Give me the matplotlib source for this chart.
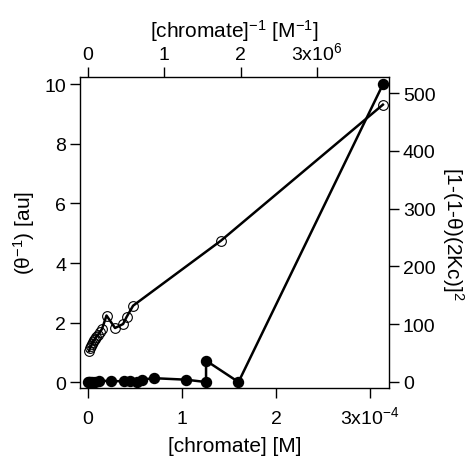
import numpy as np
import matplotlib
matplotlib.use("Agg")
import matplotlib.pyplot as plt

plt.rcParams['font.family'] = ['Liberation Sans', 'DejaVu Sans']
plt.rcParams['mathtext.fontset'] = 'custom'
plt.rcParams['mathtext.rm'] = 'Liberation Sans'
plt.rcParams['mathtext.it'] = 'Liberation Sans:italic'
plt.rcParams['mathtext.bf'] = 'Liberation Sans:bold'

# Filled circles: theta^-1 vs [chromate] (units of 1e-4 M)
chromate_1e4 = [0, 0.01, 0.02, 0.04, 0.07, 0.12, 0.24, 0.38, 0.45, 0.52, 0.57,
                0.70, 1.04, 1.255, 1.255, 1.60, 3.135]
theta_inv = [0, 0, 0, 0, 0, 0.05, 0.03, 0.03, 0.03, 0.0, 0.08,
             0.13, 0.08, 0.0, 0.72, 0.0, 10.0]

# Open circles: [1-(1-theta)(2Kc)]^2 vs [chromate]^-1 (units of 1e6 M^-1)
inv_chromate_1e6 = [0.013, 0.026, 0.039, 0.052, 0.066, 0.079, 0.092, 0.105,
                    0.131, 0.157, 0.183, 0.242, 0.354, 0.459, 0.505, 0.59,
                    1.74, 3.86]
right_vals = [53.6, 58.8, 62.3, 65.7, 69.2, 72.7, 74.4, 77.9,
              81.3, 86.5, 91.7, 115, 93.4, 100.3, 112.5, 132,
              244.5, 479.8]

bottom_ticks = [0, 1, 2, 3]
bottom_labels = ['0', '1', '2', '3x10$^{-4}$']
top_ticks = [0, 1, 2, 3]
top_labels = ['0', '1', '2', '3x10$^{6}$']
left_ticks = [0, 2, 4, 6, 8, 10]
right_ticks = [0, 100, 200, 300, 400, 500]

fig = plt.figure(figsize=(4.74, 4.60), dpi=100)
pos = [80/474, 1-389/460, (389-80)/474, (389-78)/460]
ax = fig.add_axes(pos)
ax2 = fig.add_axes(pos, frameon=False)

x1 = np.array(chromate_1e4) * 1e-4
ax.plot(x1, theta_inv, '-o', color='black', lw=1.8, ms=7.2,
        markerfacecolor='black', markeredgecolor='black', clip_on=False, zorder=3)
ax.set_xlim(-0.085e-4, 3.20e-4)
ax.set_ylim(-0.2, 10.25)
ax.set_xticks(np.array(bottom_ticks) * 1e-4)
ax.set_xticklabels(bottom_labels)
ax.set_yticks(left_ticks)
ax.set_ylabel('(θ$^{-1}$) [au]', fontsize=15, labelpad=5)

x2 = np.array(inv_chromate_1e6) * 1e6
ax2.plot(x2, right_vals, '-o', color='black', lw=1.8, ms=7,
         markerfacecolor='none', markeredgecolor='black', markeredgewidth=0.8,
         clip_on=False, zorder=4)
ax2.set_xlim(-0.105e6, 3.94e6)
ax2.set_ylim(-10.4, 527.7)
ax2.xaxis.set_ticks_position('top')
ax2.xaxis.set_label_position('top')
ax2.yaxis.set_ticks_position('right')
ax2.yaxis.set_label_position('right')
ax2.set_xticks(np.array(top_ticks) * 1e6)
ax2.set_xticklabels(top_labels)
ax2.set_yticks(right_ticks)
ax2.set_xlabel('[chromate]$^{-1}$ [M$^{-1}$]', fontsize=15, labelpad=3)
ax2.set_ylabel('[1-(1-θ)(2Kc)]$^{2}$', fontsize=15, rotation=-90, labelpad=22)

for a in (ax, ax2):
    a.tick_params(direction='out', length=7, width=1, labelsize=14, pad=3)
ax.tick_params(axis='x', pad=18.5)
for lbl in ax.get_xticklabels():
    lbl.set_verticalalignment('baseline')
for s in ax.spines.values():
    s.set_linewidth(1.0)

# bottom axis title placed under the baseline-aligned tick labels
ax.set_xlabel('[chromate] [M]', fontsize=15)
ax.xaxis.set_label_coords(0.5, -(447 - 389) / 311, transform=ax.transAxes)
ax.xaxis.label.set_verticalalignment('center')

fig.savefig('out.png', dpi=100)
